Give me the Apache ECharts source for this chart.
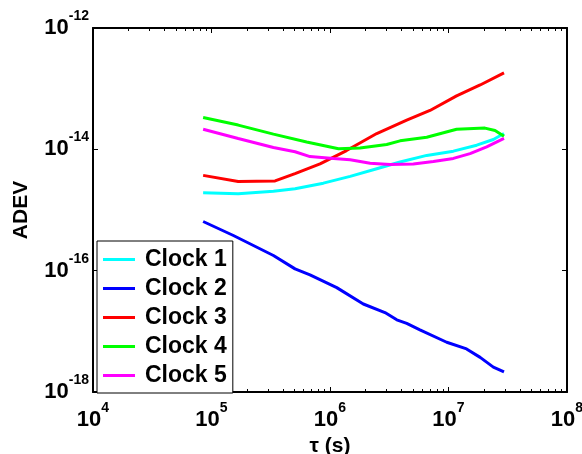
<!DOCTYPE html>
<html>
<head>
<meta charset="utf-8">
<script src="https://cdn.jsdelivr.net/npm/echarts@6/dist/echarts.min.js"></script>
<style>html,body{margin:0;padding:0;background:#fff}#c{width:582px;height:454px}</style>
</head>
<body>
<div id="c"></div>
<script>
// ---- data (tau in seconds, ADEV values) ----
var seriesNames = ['Clock 1', 'Clock 2', 'Clock 3', 'Clock 4', 'Clock 5'];
var seriesColors = ['#00FFFF', '#0000FF', '#FF0000', '#00FF00', '#FF00FF'];

var tau1 = [8.5e4, 1.68e5, 3.33e5, 5.07e5, 8.79e5, 1.48e6, 2.48e6, 3.9e6, 6.55e6, 1.1e7, 1.73e7, 2.39e7, 2.94e7];
var adev1 = [1.92e-15, 1.85e-15, 2.04e-15, 2.24e-15, 2.77e-15, 3.58e-15, 4.79e-15, 6.17e-15, 7.94e-15, 9.33e-15, 1.17e-14, 1.45e-14, 1.82e-14];

var tau2 = [8.5e4, 1.53e5, 3.33e5, 5.07e5, 6.78e5, 1.14e6, 1.91e6, 2.91e6, 3.66e6, 4.44e6, 5.74e6, 9.66e6, 1.42e7, 1.85e7, 2.39e7, 2.94e7];
var adev2 = [6.46e-16, 3.8e-16, 1.78e-16, 1.07e-16, 8.51e-17, 5.25e-17, 2.82e-17, 2.04e-17, 1.55e-17, 1.35e-17, 1.06e-17, 6.61e-18, 5.13e-18, 3.72e-18, 2.57e-18, 2.14e-18];

var tau3 = [8.5e4, 1.68e5, 3.44e5, 5.07e5, 8.24e5, 1.38e6, 2.48e6, 4.44e6, 6.98e6, 1.17e7, 1.85e7, 2.94e7];
var adev3 = [3.72e-15, 2.95e-15, 3.02e-15, 3.98e-15, 5.75e-15, 9.55e-15, 1.82e-14, 3.02e-14, 4.37e-14, 7.59e-14, 1.15e-13, 1.82e-13];

var tau4 = [8.5e4, 1.68e5, 3.33e5, 6.35e5, 1.18e6, 1.79e6, 3.01e6, 3.9e6, 6.55e6, 1.17e7, 2.03e7, 2.47e7, 2.94e7];
var adev4 = [3.34e-14, 2.51e-14, 1.78e-14, 1.32e-14, 1.02e-14, 1.05e-14, 1.2e-14, 1.38e-14, 1.58e-14, 2.14e-14, 2.24e-14, 2.04e-14, 1.64e-14];

var tau5 = [8.5e4, 1.68e5, 3.33e5, 5.07e5, 6.78e5, 1.07e6, 1.48e6, 2.18e6, 3.21e6, 5.05e6, 7.45e6, 1.1e7, 1.52e7, 2.1e7, 2.94e7];
var adev5 = [2.14e-14, 1.51e-14, 1.07e-14, 9.12e-15, 7.59e-15, 7.08e-15, 6.76e-15, 5.89e-15, 5.62e-15, 5.75e-15, 6.31e-15, 7.08e-15, 8.51e-15, 1.1e-14, 1.51e-14];

var xMin = 1e4, xMax = 1e8;
var yMin = 1e-18, yMax = 1e-12;
var xTitle = '\u03c4 (s)';
var yTitle = 'ADEV';

// ---- build ----
var FONT = '"Liberation Sans", Arial, sans-serif';
var taus = [tau1, tau2, tau3, tau4, tau5];
var adevs = [adev1, adev2, adev3, adev4, adev5];

function pairs(t, v) { return t.map(function (x, i) { return [x, v[i]]; }); }

// minor tick positions (log10 space) for 2..9 x 10^n
var minorTicks = [];
for (var e = Math.log10(xMin); e < Math.log10(xMax); e++) {
  for (var k = 2; k <= 9; k++) minorTicks.push(e + Math.log10(k));
}

var rich = {
  b: { fontSize: 22, fontWeight: 'bold', fontFamily: FONT, color: '#000' },
  s: { fontSize: 14, fontWeight: 'bold', fontFamily: FONT, color: '#000', padding: [0, 0, 24, 0] }
};
function powLabel(v) {
  var ex = Math.round(Math.log10(v));
  return '{b|10}{s|' + ex + '}';
}

var lineStyleAxis = { color: '#000', width: 2 };

var option = {
  animation: false,
  backgroundColor: '#fff',
  grid: { left: 93, right: 15, top: 28, bottom: 62, containLabel: false, outerBoundsMode: 'none' },
  legend: {
    data: seriesNames,
    orient: 'vertical',
    left: 97, top: 241,
    padding: [7, 6, 6, 6],
    itemGap: 6,
    icon: 'rect',
    itemWidth: 32, itemHeight: 3,
    borderColor: '#000', borderWidth: 1,
    backgroundColor: '#fff',
    textStyle: { fontSize: 23, fontWeight: 'bold', fontFamily: FONT, color: '#000', lineHeight: 22.3, padding: [0, 0, 0, 5] }
  },
  xAxis: [
    {
      type: 'log', logBase: 10, min: xMin, max: xMax, interval: 1, position: 'bottom',
      name: xTitle, nameLocation: 'middle', nameGap: 44, nameMoveOverlap: false,
      nameTextStyle: { fontSize: 21, fontWeight: 'bold', fontFamily: FONT, color: '#000', verticalAlign: 'top' },
      axisLine: { show: true, lineStyle: lineStyleAxis },
      axisTick: { show: true, inside: true, length: 5, lineStyle: { color: '#000', width: 1 } },
      axisLabel: { formatter: powLabel, rich: rich, margin: 9 },
      splitLine: { show: false }
    },
    {
      type: 'value', min: 4, max: 8, position: 'bottom',
      axisLine: { show: false },
      axisTick: { show: true, inside: true, length: 3, customValues: minorTicks, lineStyle: { color: '#000', width: 1 } },
      axisLabel: { show: false }, splitLine: { show: false }
    },
    {
      type: 'log', logBase: 10, min: xMin, max: xMax, interval: 1, position: 'top',
      axisLine: { show: true, lineStyle: lineStyleAxis },
      axisTick: { show: true, inside: true, length: 5, lineStyle: { color: '#000', width: 1 } },
      axisLabel: { show: false }, splitLine: { show: false }
    },
    {
      type: 'value', min: 4, max: 8, position: 'top',
      axisLine: { show: false },
      axisTick: { show: true, inside: true, length: 3, customValues: minorTicks, lineStyle: { color: '#000', width: 1 } },
      axisLabel: { show: false }, splitLine: { show: false }
    }
  ],
  yAxis: [
    {
      type: 'log', logBase: 10, min: yMin, max: yMax, interval: 2, position: 'left',
      name: yTitle, nameLocation: 'middle', nameGap: 61, nameRotate: 90, nameMoveOverlap: false,
      nameTextStyle: { fontSize: 21, fontWeight: 'bold', fontFamily: FONT, color: '#000' },
      axisLine: { show: true, lineStyle: lineStyleAxis },
      axisTick: { show: true, inside: true, length: 5, lineStyle: { color: '#000', width: 1 } },
      axisLabel: { formatter: powLabel, rich: rich, margin: 4 },
      splitLine: { show: false }
    },
    {
      type: 'log', logBase: 10, min: yMin, max: yMax, interval: 2, position: 'right',
      axisLine: { show: true, lineStyle: lineStyleAxis },
      axisTick: { show: true, inside: true, length: 5, lineStyle: { color: '#000', width: 1 } },
      axisLabel: { show: false }, splitLine: { show: false }
    }
  ],
  series: seriesNames.map(function (n, i) {
    return {
      name: n, type: 'line', xAxisIndex: 0, yAxisIndex: 0,
      data: pairs(taus[i], adevs[i]),
      symbol: 'none', showSymbol: false,
      lineStyle: { color: seriesColors[i], width: 3 },
      itemStyle: { color: seriesColors[i] }
    };
  })
};

var chart = echarts.init(document.getElementById('c'), null, { renderer: 'canvas' });
chart.setOption(option);
</script>
</body>
</html>
